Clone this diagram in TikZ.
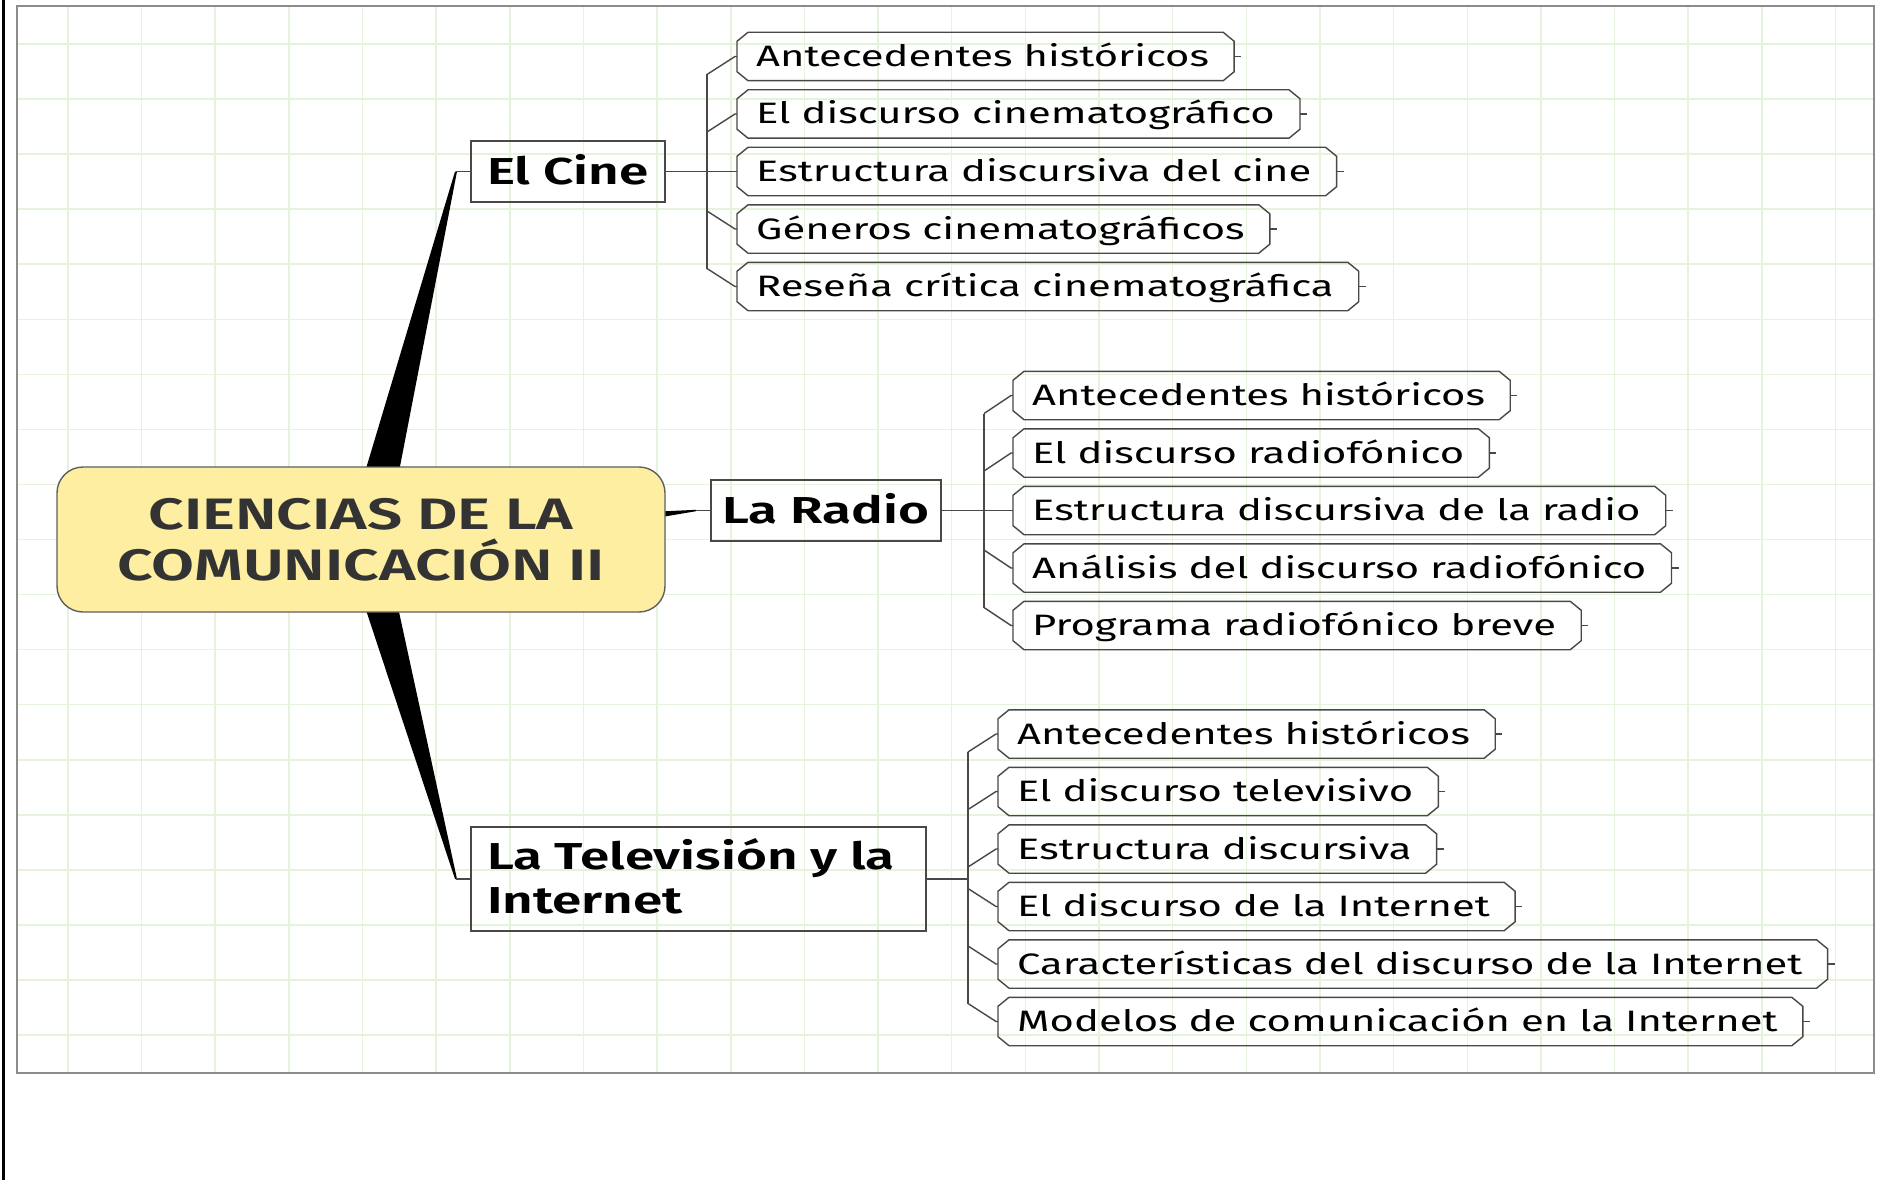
\documentclass[tikz,border=0pt]{standalone}
\usepackage{fontspec}
\setmainfont{Fira Sans}[FakeStretch=1.415, BoldFont={* SemiBold}]
\usetikzlibrary{calc,backgrounds}
\definecolor{gridc}{RGB}{230,243,220}
\definecolor{panelc}{RGB}{140,140,140}
\definecolor{linec}{RGB}{72,72,72}
\definecolor{rootfill}{RGB}{253,238,162}
\definecolor{rootline}{RGB}{95,95,95}
\definecolor{roottext}{RGB}{51,51,51}
\tikzset{
  conn/.style={draw=linec, line width=1.4pt},
  leafbox/.style={draw=linec, line width=1.4pt, line join=miter},
  leaf/.style={anchor=west, inner xsep=19pt, inner ysep=0pt, text height=20pt, text depth=0pt,
    minimum height=48pt, font=\fontsize{29.5}{34}\selectfont},
  topic/.style={draw=linec, line width=1.4pt, inner sep=0pt,
    font=\bfseries\fontsize{37.5}{44}\selectfont, text height=25pt, text depth=0pt},
  rootbox/.style={draw=rootline, fill=rootfill, line width=1.4pt, rounded corners=26pt,
    inner sep=0pt, align=center, text width=580pt, text=roottext, minimum width=608pt, minimum height=145pt,
    font=\bfseries\fontsize{44}{51}\selectfont, text height=30pt, text depth=51pt},
  taper/.style={fill=black},
}
\newcommand\leafshape[1]{%
  \draw[leafbox] ($(#1.north west)+(11,0)$) -- ($(#1.north east)+(-5,0)$) -- ($(#1.north east)+(6,9)$)
    -- ($(#1.south east)+(6,-9)$) -- ($(#1.south east)+(-5,0)$) -- ($(#1.south west)+(11,0)$)
    -- ($(#1.south west)+(0,-9)$) -- ($(#1.north west)+(0,9)$) -- cycle;
  \draw[conn] ($(#1.east)+(6,0)$) -- ++(7,0);
}
\begin{document}
\begin{tikzpicture}[x=1pt,y=-1pt]
\useasboundingbox (0,0) rectangle (1895,1180);
\begin{scope}[on background layer]
  \fill[white] (0,0) rectangle (1895,1180);
  \foreach \k in {0,...,24} \draw[gridc, line width=1.5pt] ({67.9+73.65*\k},6) -- ({67.9+73.65*\k},1073);
  \foreach \k in {0,...,18} \draw[gridc, line width=1.5pt] (17,{44+55.06*\k}) -- (1874,{44+55.06*\k});
  \draw[panelc, line width=1.3pt] (17,6) rectangle (1874,1073);
  \draw[black, line width=2.5pt] (3.5,0) -- (3.5,1180);
\end{scope}

% root
\node[rootbox] (root) at (361,539.5) {CIENCIAS DE LA\\COMUNICACIÓN II};

% main topics
\node[topic, minimum width=194pt, minimum height=61pt] (cine) at (568,171.5) {El Cine};
\node[topic, minimum width=230pt, minimum height=61pt] (radio) at (826,510.5) {La Radio};
\node[topic, minimum width=455pt, minimum height=104pt, text width=423pt, align=left, text depth=44pt]
  (tv) at (698.5,879) {La Televisión y la\\Internet};

% tapered main connectors
\coordinate (ct) at (456,171.5);
\coordinate (cb1) at (362,482);
\coordinate (cb2) at (397,482);
\coordinate (tt) at (456,879);
\coordinate (tb1) at (362,598);
\coordinate (tb2) at (396,598);
\coordinate (rt) at (696,510.5);
\coordinate (rb1) at (650,512);
\coordinate (rb2) at (650,519);
\begin{scope}[on background layer]
  \fill[taper] ($(ct)+(-1,0)$) -- ($(ct)+(1,0)$) -- (cb2) -- (cb1) -- cycle;
  \fill[taper] ($(tt)+(-1,0)$) -- ($(tt)+(1,0)$) -- (tb2) -- (tb1) -- cycle;
  \fill[taper] (rb1) -- ($(rt)+(0,-0.7)$) -- ($(rt)+(0,0.7)$) -- (rb2) -- cycle;
\end{scope}
\draw[conn] (ct) -- (cine.west);
\draw[conn] (tt) -- (tv.west);
\draw[conn] (rt) -- (radio.west);

% leaves: El Cine
\node[leaf] (a1) at (737,56.5) {Antecedentes históricos};
\node[leaf] (a2) at (737,114) {El discurso cinematográfico};
\node[leaf] (a3) at (737,171.5) {Estructura discursiva del cine};
\node[leaf] (a4) at (737,229) {Géneros cinematográficos};
\node[leaf] (a5) at (737,286.5) {Reseña crítica cinematográfica};

% leaves: La Radio
\node[leaf] (b1) at (1013,395.5) {Antecedentes históricos};
\node[leaf] (b2) at (1013,453) {El discurso radiofónico};
\node[leaf] (b3) at (1013,510.5) {Estructura discursiva de la radio};
\node[leaf] (b4) at (1013,568) {Análisis del discurso radiofónico};
\node[leaf] (b5) at (1013,625.5) {Programa radiofónico breve};

% leaves: TV e Internet
\node[leaf] (c1) at (998,734) {Antecedentes históricos};
\node[leaf] (c2) at (998,791.5) {El discurso televisivo};
\node[leaf] (c3) at (998,849) {Estructura discursiva};
\node[leaf] (c4) at (998,906.5) {El discurso de la Internet};
\node[leaf] (c5) at (998,964) {Características del discurso de la Internet};
\node[leaf] (c6) at (998,1021.5) {Modelos de comunicación en la Internet};

\foreach \n in {a1,a2,a3,a4,a5,b1,b2,b3,b4,b5,c1,c2,c3,c4,c5,c6} {\leafshape{\n}}

% branch connectors
\coordinate (ta) at (707,171.5);
\draw[conn] (cine.east) -- (a3.west);
\draw[conn] ($(ta|-a1.west)+(0,18)$) -- ($(ta|-a5.west)+(0,-18)$);
\foreach \n in {a1,a2} \draw[conn] ($(ta|-\n.west)+(0,18)$) -- ($(\n.west)+(-2,0)$) -- (\n.west);
\foreach \n in {a4,a5} \draw[conn] ($(ta|-\n.west)+(0,-18)$) -- ($(\n.west)+(-2,0)$) -- (\n.west);

\coordinate (tb) at (984,510.5);
\draw[conn] (radio.east) -- (b3.west);
\draw[conn] ($(tb|-b1.west)+(0,18)$) -- ($(tb|-b5.west)+(0,-18)$);
\foreach \n in {b1,b2} \draw[conn] ($(tb|-\n.west)+(0,18)$) -- ($(\n.west)+(-2,0)$) -- (\n.west);
\foreach \n in {b4,b5} \draw[conn] ($(tb|-\n.west)+(0,-18)$) -- ($(\n.west)+(-2,0)$) -- (\n.west);

\coordinate (tc) at (968,879);
\draw[conn] (tv.east) -- (tc);
\draw[conn] ($(tc|-c1.west)+(0,18)$) -- ($(tc|-c6.west)+(0,-18)$);
\foreach \n in {c1,c2,c3} \draw[conn] ($(tc|-\n.west)+(0,18)$) -- ($(\n.west)+(-2,0)$) -- (\n.west);
\foreach \n in {c4,c5,c6} \draw[conn] ($(tc|-\n.west)+(0,-18)$) -- ($(\n.west)+(-2,0)$) -- (\n.west);
\end{tikzpicture}
\end{document}
